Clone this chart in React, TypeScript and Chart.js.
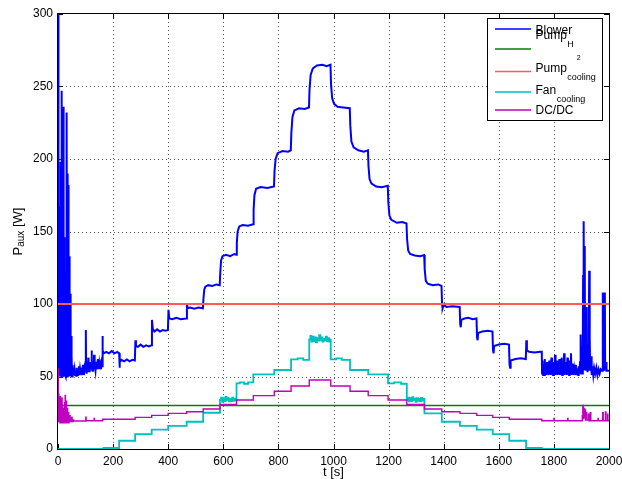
import { useEffect, useRef } from 'react';
import { Chart, registerables } from 'chart.js';

Chart.register(...registerables);

// ---------- axis ticks ----------
const xTicks = [0, 200, 400, 600, 800, 1000, 1200, 1400, 1600, 1800, 2000];
const yTicks = [0, 50, 100, 150, 200, 250, 300];

// ---------- legend labels ----------
const seriesNames = ['Blower', 'Pump', 'Pump', 'Fan', 'DC/DC'];
const seriesSubs = ['', 'H', 'cooling', 'cooling', ''];
const seriesSubSub = ['', '2', '', '', ''];
const seriesColors = ['#0000ff', '#008000', '#ff5a5a', '#00bfbf', '#bf00bf'];

// ---------- series data [t (s), P (W)] ----------
const blowerData: [number, number][] = [
  [0, 300], [0.5, 52], [1, 125], [1.5, 50], [2.5, 118], [3, 50], [4, 96], [4.5, 51], [5.5, 167], [6, 50],
  [7, 140], [7.5, 52], [8.5, 198], [9, 55], [10, 196], [10.5, 50], [11.5, 150], [12, 52], [13, 118], [13.5, 50],
  [14.5, 247], [15, 50], [16, 180], [16.5, 54], [17.5, 108], [18, 50], [19, 236], [19.5, 52], [20.5, 235], [21, 50],
  [22, 146], [22.5, 53], [23.5, 92], [24, 50], [25, 84], [25.5, 51], [26.5, 123], [27, 50], [28, 100], [28.5, 52],
  [29.5, 84], [30, 50], [31, 108], [31.5, 51], [32.5, 232], [33, 50], [34, 170], [34.5, 53], [35.5, 190], [36, 50],
  [37, 182], [37.5, 52], [38.5, 112], [39, 50], [40, 86], [40.5, 51], [41.5, 133], [42, 50], [43, 130], [43.5, 53],
  [44.5, 107], [45, 50], [46, 92], [46.5, 51], [47.5, 78], [48, 50], [49, 70], [49.5, 51], [50.5, 64], [51, 50],
  [52, 58], [52.5, 51], [53.5, 57], [54, 50], [55, 56], [56, 51], [57, 55],
  [58, 51], [60, 55], [62, 51], [64, 54], [66, 50.5], [68, 56], [70, 51], [72, 54], [74, 52], [76, 57],
  [78, 51], [80, 55], [82, 52], [84, 56], [86, 51], [88, 54], [90, 52], [92, 58], [94, 51], [96, 55],
  [98, 53], [100, 60], [101, 82], [102, 56], [104, 52], [106, 57], [108, 53], [110, 63], [111, 54], [113, 58],
  [115, 53], [117, 60], [119, 55], [121, 58], [122, 68], [123, 56], [125, 54], [127, 59], [129, 55], [131, 65],
  [132, 56], [134, 58], [136, 54], [138, 60], [140, 55], [142, 58], [144, 56], [146, 62], [148, 55], [150, 59],
  [152, 56], [154, 58], [156, 55], [158, 59], [160, 57],
  [161, 78], [163, 68], [166, 66], [175, 67], [185, 66], [195, 67.5], [205, 66], [215, 67], [221, 66],
  [222, 66], [223, 56], [225, 60], [230, 61.5], [240, 60.5], [250, 61.8], [260, 60.5], [270, 61.5], [279, 61],
  [281, 75], [283, 71], [290, 70.5], [300, 72], [310, 70.5], [320, 71.5], [330, 70.8], [339, 71.5],
  [341, 89], [344, 83], [350, 81], [360, 82.5], [370, 81], [380, 82], [390, 81.5], [399, 82],
  [401, 96], [404, 90], [415, 89.5], [430, 90.5], [445, 89.5], [466, 90],
  [468, 100], [471, 97], [480, 97.5], [495, 96.8], [510, 97.5], [526, 97],
  [528, 104], [531, 110], [535, 112], [545, 113], [560, 112.5], [575, 113.5], [587, 113],
  [589, 122], [592, 130], [597, 133], [610, 134], [625, 133], [640, 134.5], [647, 134],
  [649, 142], [652, 150], [658, 153.5], [670, 154.5], [690, 154], [708, 155],
  [710, 165], [713, 175], [719, 179.5], [735, 180.7], [760, 180], [784, 181],
  [786, 192], [790, 200], [797, 204], [815, 205.5], [835, 205], [845, 206],
  [847, 218], [851, 229], [858, 233.5], [875, 235], [895, 234.5], [911, 235.5],
  [913, 248], [917, 258], [925, 262.5], [940, 264.5], [960, 265], [975, 264], [989, 265],
  [991, 252], [995, 242], [1002, 238], [1015, 236], [1035, 235.5], [1059, 235],
  [1061, 223], [1065, 212], [1073, 208], [1090, 206], [1110, 205], [1125, 206],
  [1127, 195], [1131, 186], [1138, 183], [1155, 181], [1175, 180.5], [1197, 181.5],
  [1199, 170], [1203, 161], [1210, 158], [1230, 156], [1250, 156.5], [1265, 155.5],
  [1267, 145], [1271, 137], [1278, 134.5], [1295, 133.5], [1315, 133], [1329, 133.8],
  [1331, 124], [1335, 116], [1342, 114], [1360, 113], [1380, 113.5], [1392, 112.5],
  [1394, 100], [1396, 97], [1400, 99.5], [1410, 98], [1430, 98.5], [1458, 98],
  [1460, 86], [1462, 84], [1464, 89], [1475, 90], [1490, 90.5], [1505, 89.5], [1519, 90],
  [1521, 77], [1523, 75], [1525, 80], [1540, 81], [1560, 81.5], [1577, 81],
  [1579, 68], [1581, 66], [1583, 71], [1600, 72], [1620, 72.5], [1637, 72],
  [1639, 58], [1641, 56], [1643, 61], [1660, 62], [1680, 62.5], [1698, 62],
  [1700, 75], [1702, 68], [1710, 67], [1730, 66.5], [1750, 67], [1756, 67],
  [1757, 52], [1759, 61], [1761, 51], [1763, 58], [1765, 51], [1767, 62], [1769, 52], [1771, 57], [1773, 51], [1775, 60],
  [1777, 52], [1779, 56], [1781, 51], [1783, 61], [1785, 52], [1787, 58], [1789, 51], [1791, 63], [1793, 52], [1795, 57],
  [1797, 51], [1800, 60], [1802, 52], [1804, 65], [1806, 51], [1808, 58], [1810, 52], [1812, 61], [1814, 51], [1816, 57],
  [1818, 52], [1820, 62], [1822, 51], [1824, 59], [1826, 52], [1828, 63], [1830, 51], [1832, 57], [1834, 52], [1837, 66],
  [1839, 51], [1841, 60], [1843, 52], [1845, 58], [1847, 51], [1849, 63], [1851, 52], [1853, 57], [1855, 51], [1857, 61],
  [1859, 52], [1862, 66], [1864, 51], [1866, 59], [1868, 52], [1870, 57], [1872, 51], [1874, 55], [1876, 52], [1878, 58],
  [1880, 51], [1882, 56], [1884, 52], [1886, 54], [1888, 51], [1890, 57], [1892, 52], [1895, 60], [1897, 79], [1899, 52],
  [1901, 57], [1903, 52], [1905, 75], [1906, 120], [1907, 60], [1909, 157], [1910, 55], [1912, 140], [1913, 60], [1915, 95],
  [1916, 54], [1918, 98], [1919, 56], [1921, 72], [1922, 53], [1924, 62], [1926, 54], [1928, 123], [1929, 55], [1931, 76],
  [1932, 54], [1935, 64], [1937, 51], [1940, 57], [1943, 51], [1946, 56], [1950, 52], [1954, 56], [1958, 51], [1962, 55],
  [1966, 52], [1970, 55], [1975, 54], [1977, 108], [1978, 55], [1980, 73], [1981, 54], [1985, 108], [1986, 54], [1990, 60],
  [1991, 54], [2000, 54],
];

const pumpH2Data: [number, number][] = [[0, 30], [2000, 30]];
const pumpCoolingData: [number, number][] = [[0, 100], [2000, 100]];

const fanData: [number, number][] = [
  [0, 0], [165, 0.7], [222, 5.7], [280, 10.3], [340, 13.3], [400, 16], [467, 18.8], [527, 25],
  [588, 33.8], [592, 35.5], [596, 32.5], [600, 35], [604, 33], [608, 36], [612, 33.5], [616, 35], [620, 32.8],
  [624, 34.5], [628, 33], [632, 35.5], [636, 33.2], [640, 34.8], [644, 33.5],
  [648, 45.3], [660, 46], [675, 45], [690, 46], [709, 51.5], [785, 54.5], [846, 61.8], [870, 62.5], [890, 61.5],
  [912, 75.6], [916, 78], [920, 74], [924, 77.5], [928, 74.5], [932, 77], [936, 73.5], [940, 76.5], [944, 74.8],
  [948, 78.5], [952, 75], [956, 77], [960, 74], [964, 76], [968, 75], [972, 77.5], [976, 74.5], [980, 76.5],
  [984, 74], [988, 75.5],
  [990, 61.8], [1010, 62.5], [1030, 61.5], [1060, 54.5], [1126, 51.5], [1198, 45.3], [1220, 46], [1245, 45],
  [1266, 33.8], [1270, 35.5], [1274, 32.8], [1278, 35], [1282, 33], [1286, 35.8], [1290, 33.5], [1294, 34.8],
  [1298, 32.5], [1302, 35], [1306, 33.2], [1310, 34.6], [1314, 33], [1318, 35.2], [1322, 33.4], [1326, 34.5],
  [1330, 24.6], [1393, 18.8], [1459, 16], [1520, 13.3], [1578, 10.3], [1638, 5.7], [1699, 0.7], [1756, 0], [2000, 0],
];

const dcdcData: [number, number][] = [
  [0, 55], [1, 19], [2, 38], [3, 19], [4, 25], [5, 19], [6, 33], [7, 18], [8, 36], [9, 19],
  [10, 30], [11, 18], [12, 27], [13, 19], [14, 35], [15, 18], [16, 30], [17, 19], [18, 24], [19, 18],
  [20, 28], [21, 19], [22, 22], [23, 18], [24, 32], [25, 19], [26, 37], [27, 18], [28, 26], [29, 19],
  [30, 33], [31, 18], [32, 24], [33, 19], [34, 28], [35, 18], [36, 22], [37, 19], [38, 25], [39, 18],
  [40, 21], [41, 19], [43, 23], [44, 19], [46, 21], [47, 19], [50, 22], [51, 19], [55, 20], [57, 19.3],
  [100, 19.3], [101, 22], [102, 19.5], [130, 19.5], [131, 21], [132, 19.5],
  [162, 20.5], [280, 21.8], [340, 23.2], [400, 24.6], [467, 25.7], [527, 27.6], [588, 30.8], [648, 33.8],
  [709, 36.8], [785, 39.8], [846, 43.4], [912, 47.6], [990, 43.4], [1060, 39.8], [1126, 36.8], [1198, 33.8],
  [1266, 30.8], [1330, 27.6], [1393, 25.7], [1459, 24.6], [1520, 23.2], [1578, 21.8], [1638, 20.5], [1756, 19.5],
  [1800, 21], [1801, 19.5], [1850, 21], [1851, 19.5], [1903, 23], [1905, 30], [1907, 21], [1909, 28], [1911, 22],
  [1913, 27], [1915, 20], [1917, 25], [1919, 20], [1925, 24], [1927, 19.5], [1932, 25], [1934, 19.5],
  [1960, 21], [1961, 19.5], [1977, 25], [1979, 19.5], [1987, 25.5], [1989, 19.5], [1995, 24], [1996, 19.5], [2000, 19.5],
];

const FONT = '"Liberation Sans", Arial, Helvetica, sans-serif';
const f = (s: number) => `${s}px ${FONT}`;

const toXY = (d: [number, number][]) => d.map(([x, y]) => ({ x, y }));

const framePlugin = {
  id: 'matlabFrame',
  beforeDatasetsDraw(chart: any) {
    const { ctx, chartArea: a, scales } = chart;
    const xs = scales.x;
    const ys = scales.y;
    ctx.save();
    // dotted grid
    ctx.strokeStyle = '#555';
    ctx.lineWidth = 1;
    ctx.setLineDash([1, 3]);
    for (const v of xTicks) {
      if (v === xTicks[0] || v === xTicks[xTicks.length - 1]) continue;
      const px = Math.round(xs.getPixelForValue(v)) + 0.5;
      ctx.beginPath();
      ctx.moveTo(px, a.top);
      ctx.lineTo(px, a.bottom);
      ctx.stroke();
    }
    for (const v of yTicks) {
      if (v === yTicks[0] || v === yTicks[yTicks.length - 1]) continue;
      const py = Math.round(ys.getPixelForValue(v)) + 0.5;
      ctx.beginPath();
      ctx.moveTo(a.left, py);
      ctx.lineTo(a.right, py);
      ctx.stroke();
    }
    ctx.setLineDash([]);
    // box
    ctx.strokeStyle = '#000';
    ctx.lineWidth = 1;
    ctx.strokeRect(a.left - 0.5, a.top - 0.5, a.right - a.left + 1, a.bottom - a.top + 1);
    // inward ticks
    const tl = 5;
    ctx.beginPath();
    for (const v of xTicks) {
      const px = Math.round(xs.getPixelForValue(v)) + 0.5;
      ctx.moveTo(px, a.bottom);
      ctx.lineTo(px, a.bottom - tl);
      ctx.moveTo(px, a.top);
      ctx.lineTo(px, a.top + tl);
    }
    for (const v of yTicks) {
      const py = Math.round(ys.getPixelForValue(v)) + 0.5;
      ctx.moveTo(a.left, py);
      ctx.lineTo(a.left + tl, py);
      ctx.moveTo(a.right, py);
      ctx.lineTo(a.right - tl, py);
    }
    ctx.stroke();
    ctx.restore();
  },
  afterDraw(chart: any) {
    const { ctx, chartArea: a } = chart;
    ctx.save();
    ctx.fillStyle = '#000';
    ctx.textBaseline = 'alphabetic';
    // x title
    ctx.font = f(13);
    ctx.textAlign = 'center';
    ctx.fillText('t [s]', (a.left + a.right) / 2, 476);
    // y title  P_aux [W]
    ctx.save();
    ctx.translate(21.5, (a.top + a.bottom) / 2);
    ctx.rotate(-Math.PI / 2);
    ctx.textAlign = 'left';
    ctx.font = f(13);
    const wP = ctx.measureText('P').width;
    const wW = ctx.measureText(' [W]').width;
    ctx.font = f(10);
    const wA = ctx.measureText('aux').width;
    let x0 = -(wP + wA + wW) / 2;
    ctx.font = f(13);
    ctx.fillText('P', x0, 0);
    x0 += wP;
    ctx.font = f(10);
    ctx.fillText('aux', x0, 2.5);
    x0 += wA;
    ctx.font = f(13);
    ctx.fillText(' [W]', x0, 0);
    ctx.restore();

    // legend
    const L = 487.5, T = 18.5, W = 115, H = 102;
    ctx.fillStyle = '#fff';
    ctx.fillRect(L, T, W, H);
    ctx.strokeStyle = '#000';
    ctx.lineWidth = 1;
    ctx.strokeRect(L, T, W, H);
    const lineY = [29, 49, 71.5, 92, 110];
    const textY = [33.8, 38.5, 71.5, 94, 114];
    const subDy = [0, 8.5, 8.5, 7.5, 0];
    for (let i = 0; i < seriesNames.length; i++) {
      ctx.strokeStyle = seriesColors[i];
      ctx.lineWidth = 1.5;
      ctx.beginPath();
      ctx.moveTo(495, lineY[i]);
      ctx.lineTo(531, lineY[i]);
      ctx.stroke();
      ctx.fillStyle = '#000';
      ctx.textAlign = 'left';
      ctx.font = f(12);
      ctx.fillText(seriesNames[i], 535.5, textY[i]);
      let xx = 535.5 + ctx.measureText(seriesNames[i]).width + 0.5;
      if (seriesSubs[i]) {
        ctx.font = f(9);
        ctx.fillText(seriesSubs[i], xx, textY[i] + subDy[i]);
        xx += ctx.measureText(seriesSubs[i]).width + 3;
      }
      if (seriesSubSub[i]) {
        ctx.font = f(7);
        ctx.fillText(seriesSubSub[i], xx, textY[i] + 21);
      }
    }
    ctx.restore();
  },
};

export default function App() {
  const ref = useRef<HTMLCanvasElement>(null);
  useEffect(() => {
    const canvas = ref.current;
    if (!canvas) return;
    const mk = (label: string, data: [number, number][], color: string, width: number, order: number, stepped = false) => ({
      label,
      data: toXY(data),
      borderColor: color,
      backgroundColor: color,
      borderWidth: width,
      pointRadius: 0,
      tension: 0,
      fill: false,
      stepped,
      order,
    });
    const chart = new Chart(canvas, {
      type: 'line',
      data: {
        datasets: [
          mk('Blower', blowerData, seriesColors[0], 2, 5),
          mk('Pump H2', pumpH2Data, seriesColors[1], 1.3, 4),
          mk('Pump cooling', pumpCoolingData, seriesColors[2], 1.8, 3),
          mk('Fan cooling', fanData, seriesColors[3], 1.8, 2, true),
          mk('DC/DC', dcdcData, seriesColors[4], 1.4, 1, true),
        ] as any,
      },
      options: {
        animation: false,
        responsive: false,
        devicePixelRatio: 1,
        parsing: false as any,
        normalized: true,
        layout: { padding: { left: 0, right: 13, top: 14, bottom: 0 } },
        plugins: { legend: { display: false }, tooltip: { enabled: false } },
        scales: {
          x: {
            type: 'linear',
            min: 0,
            max: 2000,
            grid: { display: false, drawTicks: false },
            border: { display: false },
            ticks: {
              stepSize: 200,
              padding: 5,
              color: '#000',
              font: { family: FONT, size: 12 },
              maxRotation: 0,
              autoSkip: false,
              callback: (v: any) => String(v),
            },
            afterFit: (s: any) => {
              s.height = 30;
              s.paddingLeft = 0;
              s.paddingRight = 0;
            },
          },
          y: {
            type: 'linear',
            min: 0,
            max: 300,
            grid: { display: false, drawTicks: false },
            border: { display: false },
            ticks: {
              stepSize: 50,
              padding: 5,
              color: '#000',
              font: { family: FONT, size: 12 },
              callback: (v: any) => String(v),
            },
            afterFit: (s: any) => {
              s.width = 58;
              s.paddingTop = 0;
              s.paddingBottom = 0;
            },
          },
        },
      } as any,
      plugins: [framePlugin],
    });
    return () => chart.destroy();
  }, []);
  return (
    <div style={{ position: 'absolute', left: 0, top: 0, width: 622, height: 479, background: '#fff' }}>
      <canvas ref={ref} width={622} height={479} style={{ display: 'block', width: 622, height: 479 }} />
    </div>
  );
}
